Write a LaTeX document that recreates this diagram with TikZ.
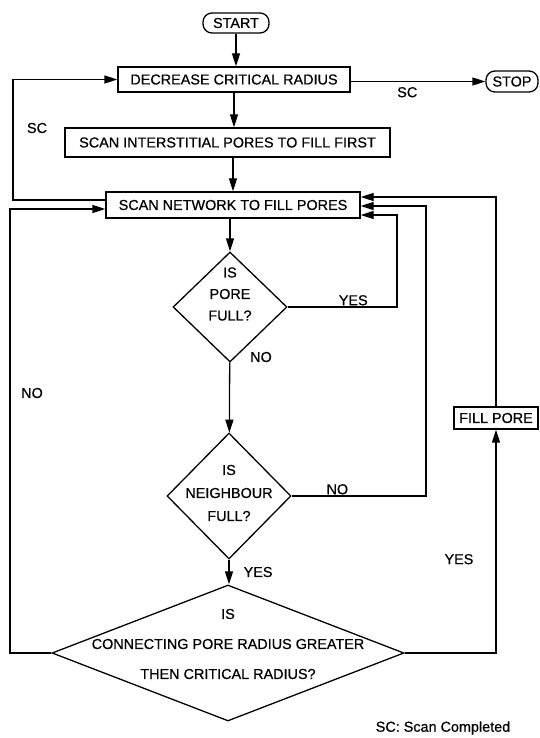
\documentclass[tikz,border=0pt]{standalone}
\usepackage{fontspec}
\setmainfont{Liberation Sans}
\newfontfamily\chartfont{Liberation Sans}[FakeBold=0.6]
\usetikzlibrary{positioning,arrows.meta,shapes.geometric,calc}

\begin{document}
\begin{tikzpicture}[x=1pt,y=-1pt,
    box/.style={rectangle,draw,line width=1.3pt,inner sep=0pt,
                font=\chartfont\fontsize{14.4}{17}\selectfont},
    term/.style={box,rounded corners=9pt},
    decision/.style={diamond,draw,line width=1.3pt,inner sep=0pt},
    dtext/.style={align=center,inner sep=0pt},
    lbl/.style={font=\chartfont\fontsize{14.4}{17}\selectfont,inner sep=1pt},
    arrow/.style={-{Triangle[length=13pt,width=8pt]},line width=1.3pt}
]
\useasboundingbox (0,0) rectangle (540,738);

\node[term] (start)        at (236,23)    [minimum width=66pt,minimum height=20pt] {START};
\node[box]  (decrease)     at (234,79.5)  [minimum width=232pt,minimum height=25pt] {DECREASE CRITICAL RADIUS};
\node[term] (stop)         at (512,81.5)  [minimum width=52pt,minimum height=21pt] {STOP};
\node[box]  (interstitial) at (227.5,142.5) [minimum width=325pt,minimum height=29pt] {SCAN INTERSTITIAL PORES TO FILL FIRST};
\node[box]  (network)      at (233,205)   [minimum width=254pt,minimum height=26pt] {SCAN NETWORK TO FILL PORES};
\node[decision] (porefull)  at (230,307)  [minimum width=114pt,minimum height=110pt] {};
\node[decision] (neighbour) at (229,496)  [minimum width=124pt,minimum height=126pt] {};
\node[decision] (greater)   at (228,653)  [minimum width=352pt,minimum height=136pt] {};
\node[box]  (fillpore)     at (496,418)   [minimum width=84pt,minimum height=22pt] {FILL PORE};

% text inside the decisions
\node[dtext,font=\chartfont\fontsize{14.4}{21.5}\selectfont] (porefull-txt)  at (230,294) {IS\\PORE\\FULL?};
\node[dtext,font=\chartfont\fontsize{14.4}{23}\selectfont]   (neighbour-txt) at (229,493) {IS\\NEIGHBOUR\\FULL?};
\node[dtext,font=\chartfont\fontsize{14.4}{30}\selectfont]   (greater-txt)   at (228,644) {IS\\CONNECTING PORE RADIUS GREATER\\THEN CRITICAL RADIUS?};

% return lines
\coordinate (leftA) at (13,0);
\coordinate (leftB) at (10,0);
\coordinate (rightA) at (397,0);
\coordinate (rightB) at (426,0);

\draw[arrow] (start) -- (start |- decrease.north);
\draw[arrow] (decrease.east |- stop.west) -- node[below=4pt,pos=0.42,lbl]{SC} (stop.west);
\draw[arrow] (decrease) -- (decrease |- interstitial.north);
\draw[arrow] (network |- interstitial.south) -- (network.north);
\draw[arrow] (network.south -| porefull) -- (porefull.north);
\draw[arrow] (porefull) -- (neighbour);
\draw[arrow] (neighbour.south) -- node[right=13pt,midway,lbl]{YES} (neighbour.south |- greater.north);

\draw[arrow] ([yshift=5pt]network.west) -| (leftA |- decrease.west) -- (decrease.west);
\draw[arrow] (greater.west) -| ([yshift=-4pt]leftB |- network.west) -- ([yshift=-4pt]network.west);
\draw[arrow] (porefull.east) -| node[pos=0.3,above,lbl]{YES} ([yshift=-10pt]rightA |- network.east) -- ([yshift=-10pt]network.east);
\draw[arrow] (neighbour.east) -| node[pos=0.17,above,lbl]{NO} ([yshift=-1pt]rightB |- network.east) -- ([yshift=-1pt]network.east);
\draw[arrow] (greater.east) -| node[pos=0.71,left=21pt,lbl]{YES} (fillpore.south);
\draw[arrow] (fillpore.north) |- ([yshift=8pt]network.east);

\node[lbl] (sc-left)  at (37,128)  {SC};
\node[lbl] (no-left)  at (32,393)  {NO};
\node[lbl] (no-down)  at (261,357) {NO};
\node[lbl] (legend)   at (443,728) {SC: Scan Completed};
\end{tikzpicture}
\end{document}
